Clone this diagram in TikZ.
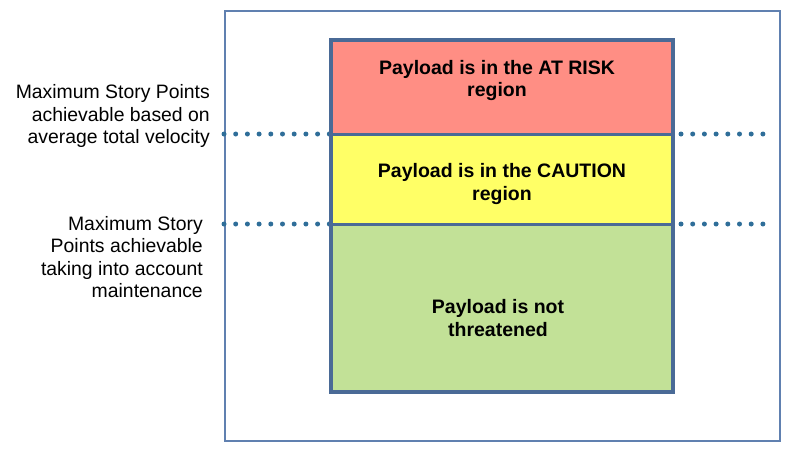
\documentclass[tikz,border=0pt]{standalone}
\usepackage{fontspec}
\setmainfont{Liberation Sans}
\definecolor{outerc}{HTML}{6080B0}
\definecolor{innerc}{HTML}{4A6A96}
\definecolor{dotc}{HTML}{2F6E99}
\definecolor{riskc}{HTML}{FF8E84}
\definecolor{cautc}{HTML}{FFFF66}
\definecolor{okc}{HTML}{C2E197}
\tikzset{
  zone/.style={fill=#1, draw=none, minimum width=342pt, inner sep=0pt, outer sep=0pt},
  zonetext/.style={font=\fontsize{19.5}{22.7}\selectfont\bfseries, align=center, inner sep=0pt},
  sidelabel/.style={font=\fontsize{19.4}{22.3}\selectfont, align=right, inner sep=0pt, anchor=east},
  dotline/.style={draw=dotc, line width=5pt, line cap=round, dash pattern=on 0pt off 11.7pt},
  divider/.style={draw=innerc, line width=3pt},
}
\begin{document}
\begin{tikzpicture}[x=1pt,y=-1pt]
\useasboundingbox (0,0) rectangle (800,456);
% outer frame
\node[draw=outerc, line width=2pt, minimum width=555pt, minimum height=430pt, inner sep=0pt] (frame) at (502.5,226) {};
% dotted level lines
\coordinate (l1a) at (224,134); \coordinate (l1b) at (330,134);
\coordinate (r1a) at (681,134); \coordinate (r1b) at (765,134);
\coordinate (l2a) at (224,224); \coordinate (l2b) at (330,224);
\coordinate (r2a) at (681,224); \coordinate (r2b) at (765,224);
\path[dotline] (l1a) -- (l1b);
\path[dotline] (r1a) -- (r1b);
\path[dotline] (l2a) -- (l2b);
\path[dotline] (r2a) -- (r2b);
% zones
\node[zone=riskc, minimum height=94pt] (risk) at (502,87) {};
\node[zone=cautc, minimum height=90pt] (caut) at (502,179) {};
\node[zone=okc, minimum height=168pt] (ok) at (502,308) {};
\draw[divider] (risk.south west) -- (risk.south east);
\draw[divider] (caut.south west) -- (caut.south east);
\draw[draw=innerc, line width=3.2pt] (risk.north west) rectangle (ok.south east);
% zone texts
\node[zonetext] (t1) at (497,80.5) {Payload is in the AT RISK\\region};
\node[zonetext] (t2) at (502,184) {Payload is in the CAUTION\\region};
\node[zonetext] (t3) at (498,318) {Payload is not\\threatened};
% side labels
\node[sidelabel] (s1) at (210,116) {Maximum Story Points\\achievable based on\\average total velocity};
\node[sidelabel] (s2) at (203,257) {Maximum Story\\Points achievable\\taking into account\\maintenance};
\end{tikzpicture}
\end{document}
